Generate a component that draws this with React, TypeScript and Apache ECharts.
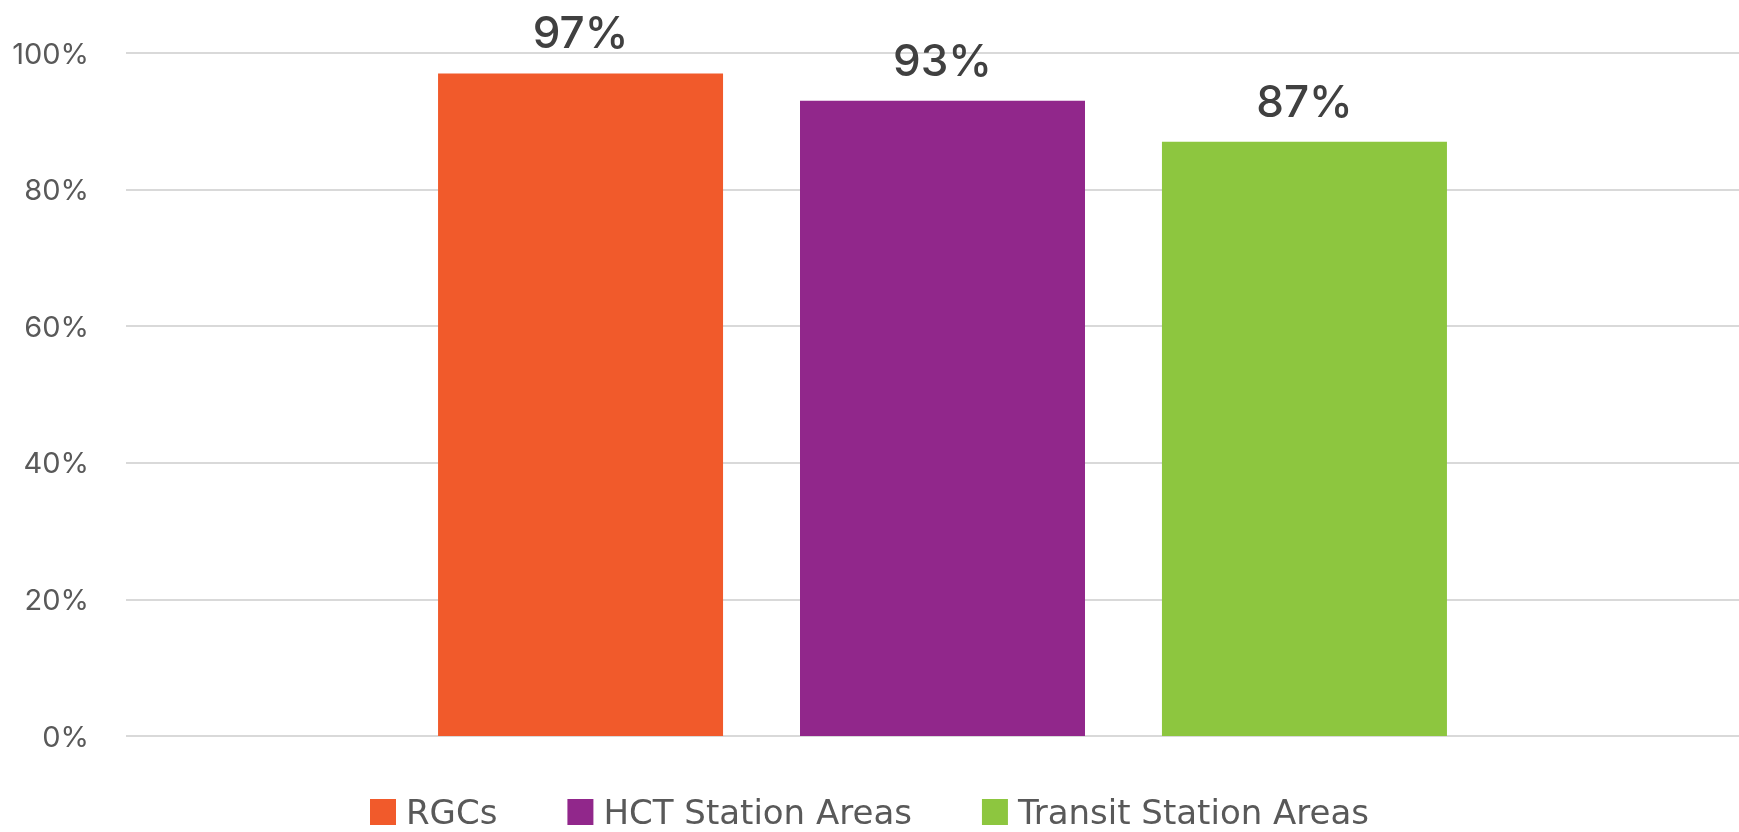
import React, { useEffect, useRef } from "react";
import * as echarts from "echarts";

const categories = ["All"];
const seriesNames = ["RGCs", "HCT Station Areas", "Transit Station Areas"];
const seriesValues = [97, 93, 87];
const seriesColors = ["#F15A2B", "#91278B", "#8DC63F"];
const yTicks = [0, 20, 40, 60, 80, 100];

const FONT = "Inter, 'Open Sans', sans-serif";
const LEGEND_FONT = "'DejaVu Sans', Inter, sans-serif";

export default function App() {
  const ref = useRef<HTMLDivElement>(null);
  useEffect(() => {
    if (!ref.current) return;
    const chart = echarts.init(ref.current, null, { renderer: "svg" });
    chart.setOption({
      animation: false,
      textStyle: { fontFamily: FONT },
      grid: {
        left: 126,
        width: 1633,
        top: 53,
        bottom: 96,
        containLabel: false,
        outerBoundsMode: "none",
      },
      legend: {
        data: seriesNames,
        top: 795,
        left: "center",
        padding: 0,
        itemWidth: 26,
        itemHeight: 26,
        itemGap: 70,
        icon: "rect",
        textStyle: {
          fontSize: 34,
          lineHeight: 30,
          color: "#595959",
          fontFamily: LEGEND_FONT,
          padding: [0, 0, 0, 5],
        },
      },
      xAxis: {
        type: "category",
        data: categories,
        axisLine: { show: false },
        axisTick: { show: false },
        axisLabel: { show: false },
      },
      yAxis: {
        type: "value",
        min: yTicks[0],
        max: yTicks[yTicks.length - 1],
        interval: 20,
        axisLabel: {
          formatter: (v: number) => v + "%",
          fontSize: 29,
          color: "#595959",
          margin: 37,
          fontFamily: FONT,
        },
        axisLine: { show: false },
        axisTick: { show: false },
        splitLine: { lineStyle: { color: "#d9d9d9", width: 2 } },
      },
      series: seriesNames.map((name, i) => ({
        name,
        type: "bar",
        data: [seriesValues[i]],
        barWidth: 285,
        barGap: "27%",
        itemStyle: { color: seriesColors[i] },
        label: {
          show: true,
          position: "top",
          distance: 19,
          formatter: "{c}%",
          fontSize: 44,
          fontWeight: 500,
          color: "#404040",
          fontFamily: FONT,
        },
      })),
    });
    return () => chart.dispose();
  }, []);
  return (
    <div
      ref={ref}
      style={{ position: "fixed", left: 0, top: 0, width: 1739, height: 832 }}
    />
  );
}
